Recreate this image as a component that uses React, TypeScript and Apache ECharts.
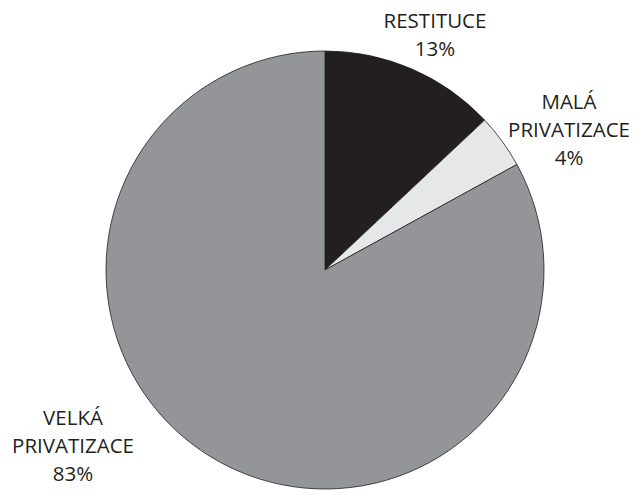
import React, { useEffect, useRef } from "react";
import * as echarts from "echarts";

const categories = ["RESTITUCE", "MALÁ\nPRIVATIZACE", "VELKÁ\nPRIVATIZACE"];
const values = [13, 4, 83];
const colors = ["#231f20", "#e6e7e8", "#939598"];
const labelPos = [
  [435, 34],
  [569, 129],
  [73, 445],
];

export default function App() {
  const ref = useRef<HTMLDivElement>(null);
  useEffect(() => {
    const chart = echarts.init(ref.current!, null, { renderer: "svg" });
    chart.setOption({
      animation: false,
      backgroundColor: "#ffffff",
      series: [
        {
          type: "pie",
          center: [325, 270],
          radius: 219,
          startAngle: 90,
          clockwise: true,
          data: categories.map((c, i) => ({
            name: c,
            value: values[i],
            itemStyle: { color: colors[i] },
          })),
          itemStyle: { borderColor: "#231f20", borderWidth: 0.8 },
          label: {
            show: true,
            formatter: (p: any) => `${p.name}\n${p.value}%`,
            color: "#231f20",
            fontFamily: "Open Sans",
            fontSize: 20.5,
            lineHeight: 28,
            align: "center",
            overflow: "none",
            edgeDistance: 0,
          },
          labelLine: { show: false },
          labelLayout: (p: any) => ({
            x: labelPos[p.dataIndex][0],
            y: labelPos[p.dataIndex][1],
            align: "center",
            verticalAlign: "middle",
          }),
          emphasis: { disabled: true },
        },
      ],
    });
    return () => chart.dispose();
  }, []);
  return (
    <div
      ref={ref}
      style={{ position: "absolute", left: 0, top: 0, width: 638, height: 495 }}
    />
  );
}
